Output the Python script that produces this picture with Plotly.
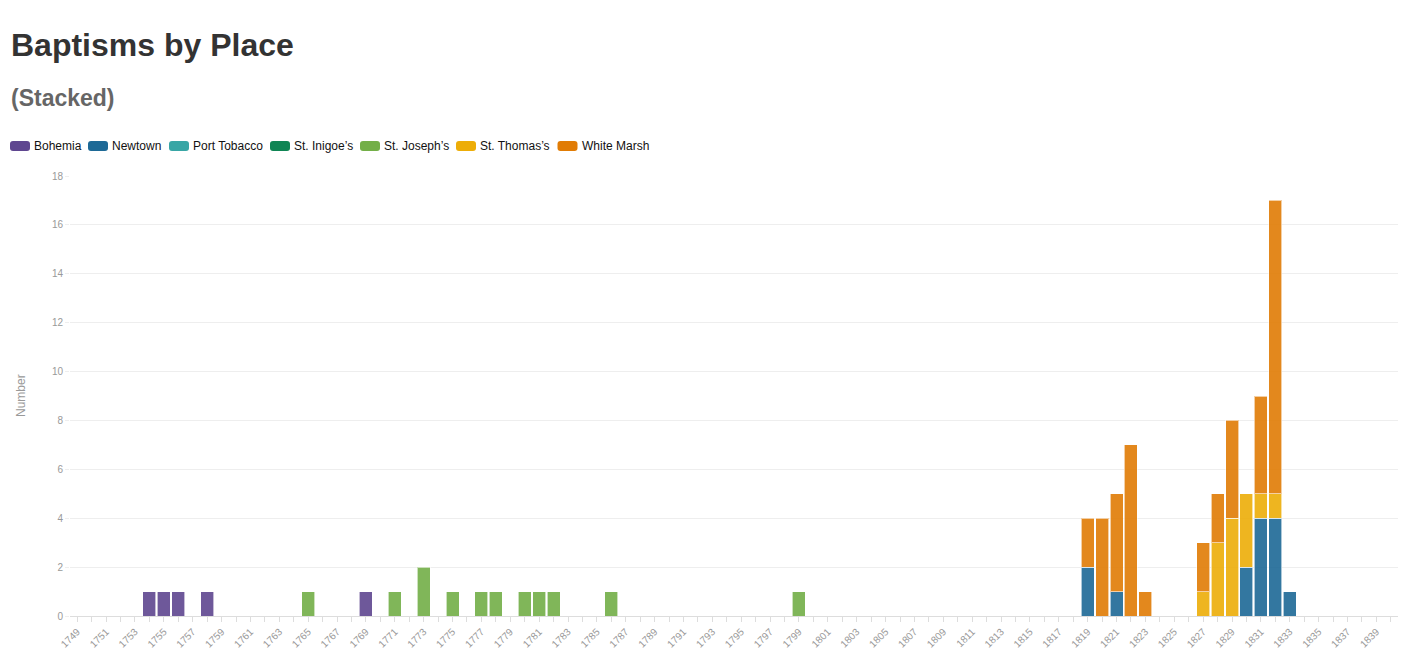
import plotly.graph_objects as go

# ---- data ----
bohemia_years = [1754, 1755, 1756, 1758, 1769]
bohemia_values = [1, 1, 1, 1, 1]

newtown_years = [1819, 1821, 1830, 1831, 1832, 1833]
newtown_values = [2, 1, 2, 4, 4, 1]

port_tobacco_years = []
port_tobacco_values = []

st_inigoes_years = []
st_inigoes_values = []

st_josephs_years = [1765, 1771, 1773, 1775, 1777, 1778, 1780, 1781, 1782, 1786, 1799]
st_josephs_values = [1, 1, 2, 1, 1, 1, 1, 1, 1, 1, 1]

st_thomas_years = [1827, 1828, 1829, 1830, 1831, 1832]
st_thomas_values = [1, 3, 4, 3, 1, 1]

white_marsh_years = [1819, 1820, 1821, 1822, 1823, 1827, 1828, 1829, 1831, 1832]
white_marsh_values = [2, 4, 4, 7, 1, 2, 2, 4, 4, 12]

series_names = ["Bohemia", "Newtown", "Port Tobacco", "St. Inigoe\u2019s",
                "St. Joseph\u2019s", "St. Thomas\u2019s", "White Marsh"]
series_years = [bohemia_years, newtown_years, port_tobacco_years, st_inigoes_years,
                st_josephs_years, st_thomas_years, white_marsh_years]
series_values = [bohemia_values, newtown_values, port_tobacco_values, st_inigoes_values,
                 st_josephs_values, st_thomas_values, white_marsh_values]
colors = ["#5F4690", "#1D6996", "#38A6A5", "#0F8554", "#73AF48", "#EDAD08", "#E17C05"]

year_start, year_end = 1749, 1840
y_max = 18

# ---- layout geometry (page pixels) ----
W, H = 1407, 650
ml, mr, mt, mb = 70, 9, 176, 34
pw = W - ml - mr
ph = H - mt - mb


def px_x(p):
    return (p - ml) / pw


def px_y(p):
    return 1 - (p - mt) / ph


fig = go.Figure()
for name, xs, ys, c in zip(series_names, series_years, series_values, colors):
    if not xs:
        xs, ys = [None], [None]
    fig.add_trace(go.Bar(
        name=name, x=xs, y=ys, showlegend=False,
        marker=dict(color=c, opacity=0.9, line=dict(color="rgba(255,255,255,0.6)", width=1)),
        hovertemplate="%{x}: %{y}<extra>" + name + "</extra>",
    ))

# ---- custom legend (rounded swatches + labels) ----
legend_left = [10, 88, 169, 270, 360, 456, 557.5]
sw_w, sw_h, sw_r, leg_cy = 20, 10, 3, 146
shapes = []
annotations = []
for name, c, lx in zip(series_names, colors, legend_left):
    x0, x1 = lx, lx + sw_w
    y0, y1 = leg_cy - sw_h / 2, leg_cy + sw_h / 2
    X = px_x
    Y = px_y
    path = (f"M {X(x0 + sw_r)},{Y(y0)} L {X(x1 - sw_r)},{Y(y0)} "
            f"Q {X(x1)},{Y(y0)} {X(x1)},{Y(y0 + sw_r)} L {X(x1)},{Y(y1 - sw_r)} "
            f"Q {X(x1)},{Y(y1)} {X(x1 - sw_r)},{Y(y1)} L {X(x0 + sw_r)},{Y(y1)} "
            f"Q {X(x0)},{Y(y1)} {X(x0)},{Y(y1 - sw_r)} L {X(x0)},{Y(y0 + sw_r)} "
            f"Q {X(x0)},{Y(y0)} {X(x0 + sw_r)},{Y(y0)} Z")
    shapes.append(dict(type="path", path=path, xref="paper", yref="paper",
                       fillcolor=c, line=dict(width=0), layer="above"))
    annotations.append(dict(text=name, xref="paper", yref="paper",
                            x=px_x(lx + sw_w + 2), y=px_y(leg_cy + 0.5),
                            xanchor="left", yanchor="middle", showarrow=False,
                            font=dict(size=12, color="#111")))

annotations += [
    dict(text="<b>Baptisms by Place</b>", xref="paper", yref="paper",
         x=px_x(9), y=px_y(45.5), xanchor="left", yanchor="middle", showarrow=False,
         font=dict(size=32, color="#333")),
    dict(text="<b>(Stacked)</b>", xref="paper", yref="paper",
         x=px_x(9), y=px_y(98), xanchor="left", yanchor="middle", showarrow=False,
         font=dict(size=23, color="#666")),
    dict(text="Number", xref="paper", yref="paper", textangle=-90,
         x=px_x(21), y=px_y(396), xanchor="center", yanchor="middle", showarrow=False,
         font=dict(size=12, color="#999")),
]

fig.update_layout(
    width=W, height=H,
    margin=dict(l=ml, r=mr, t=mt, b=mb, autoexpand=False),
    paper_bgcolor="white", plot_bgcolor="white",
    barmode="stack", bargap=0.1,
    font=dict(family="Liberation Sans, Arial, Helvetica, sans-serif", color="#333"),
    showlegend=False,
    xaxis=dict(
        type="linear", range=[year_start - 0.5, year_end + 0.5],
        tick0=year_start, dtick=2, tickangle=-45,
        tickfont=dict(size=10, color="#999"),
        ticks="outside", ticklen=5, tickcolor="#ddd",
        minor=dict(dtick=1, tick0=year_start, ticks="outside", ticklen=5,
                   tickcolor="#ddd", showgrid=False),
        showgrid=False, showline=True, linecolor="#ddd", linewidth=1,
        zeroline=False, fixedrange=True,
    ),
    yaxis=dict(
        range=[0, y_max], dtick=2, tick0=0,
        tickfont=dict(size=10, color="#999"),
        ticks="outside", ticklen=4, tickcolor="#eee",
        showgrid=True, gridcolor="#eeeeee", gridwidth=1,
        showline=False, zeroline=False, fixedrange=True,
    ),
    shapes=shapes,
    annotations=annotations,
)

fig.write_html("out.html", config={"displayModeBar": False},
               post_script="document.body.style.margin='0px';")
